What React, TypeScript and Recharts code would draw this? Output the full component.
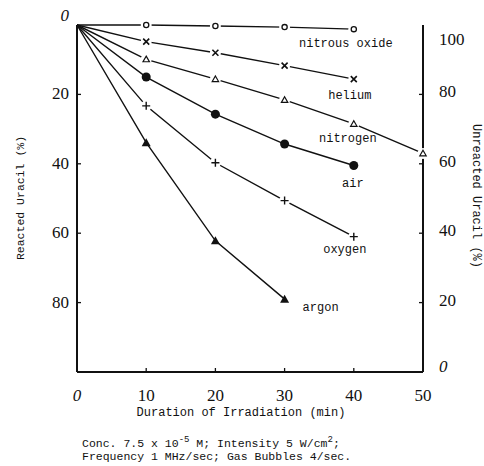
import { LineChart, Line, XAxis, YAxis, LabelList } from "recharts";

// minutes of irradiation, reacted uracil (%) per gas
const minutes = [0, 10, 20, 30, 40, 50];
const nitrousOxide = [0, 0, 0.3, 0.6, 1.2, null];
const helium = [0, 4.8, 8, 11.7, 15.6, null];
const nitrogen = [0, 9.9, 15.6, 21.6, 28.5, 37];
const air = [0, 15, 25.7, 34.3, 40.5, null];
const oxygen = [0, 23.3, 39.7, 50.6, 61, null];
const argon = [0, 33.9, 62.2, 79, null, null];

const xTicks = [0, 10, 20, 30, 40, 50];
const leftTicks = [0, 20, 40, 60, 80, 100];
const rightTicks = [0, 20, 40, 60, 80, 100];

const data = minutes.map((m, i) => ({
  min: m,
  nitrous: nitrousOxide[i],
  helium: helium[i],
  nitrogen: nitrogen[i],
  air: air[i],
  oxygen: oxygen[i],
  argon: argon[i],
}));

const MONO = "Liberation Mono, DejaVu Sans Mono, monospace";
const SERIF = "Liberation Serif, serif";
const INK = "#111";

type Shape = "ocircle" | "cross" | "otri" | "fcircle" | "plus" | "ftri";

const makeDot = (shape: Shape) => (p: any) => {
  const { cx, cy, index, value } = p;
  if (cx == null || cy == null || value == null || index === 0) return <g key={`e${index}`} />;
  let mark;
  switch (shape) {
    case "ocircle":
      mark = <circle cx={cx} cy={cy} r={2.6} fill="#fff" stroke={INK} strokeWidth={1.3} />;
      break;
    case "cross":
      mark = (
        <path d={`M${cx - 3} ${cy - 3}L${cx + 3} ${cy + 3}M${cx - 3} ${cy + 3}L${cx + 3} ${cy - 3}`} stroke={INK} strokeWidth={1.6} />
      );
      break;
    case "otri":
      mark = (
        <path d={`M${cx} ${cy - 3.2}L${cx + 3.2} ${cy + 2.4}L${cx - 3.2} ${cy + 2.4}Z`} fill="#fff" stroke={INK} strokeWidth={1.2} />
      );
      break;
    case "fcircle":
      mark = <circle cx={cx} cy={cy} r={4.5} fill={INK} />;
      break;
    case "plus":
      mark = (
        <path d={`M${cx - 4} ${cy}L${cx + 4} ${cy}M${cx} ${cy - 4}L${cx} ${cy + 4}`} stroke={INK} strokeWidth={1.4} />
      );
      break;
    case "ftri":
      mark = <path d={`M${cx} ${cy - 4.5}L${cx + 4.5} ${cy + 3.5}L${cx - 4.5} ${cy + 3.5}Z`} fill={INK} />;
      break;
  }
  const halo = shape === "fcircle" || shape === "ftri" ? 0 : 5.5;
  return (
    <g key={`d${index}`}>
      {halo > 0 && <circle cx={cx} cy={cy} r={halo} fill="#fff" />}
      {mark}
    </g>
  );
};

const seriesLabel = (name: string, at: number, dx: number, dy: number) => (p: any) => {
  if (p.index !== at || p.x == null) return null;
  return (
    <text x={p.x + dx} y={p.y + dy} textAnchor="middle" fontFamily={MONO} fontSize={12} fill={INK}>
      {name}
    </text>
  );
};

const XTick = (p: any) => {
  const { x, y, payload } = p;
  const v = payload.value;
  return (
    <g>
      {v !== 0 && v !== 50 && <line x1={x} y1={y} x2={x} y2={y - 4} stroke={INK} strokeWidth={1.3} />}
      <text x={x} y={y + 29} textAnchor="middle" fontFamily={SERIF} fontSize={17}
        fontStyle={v === 0 ? "italic" : "normal"} fill={INK}>
        {v}
      </text>
    </g>
  );
};

const LeftTick = (p: any) => {
  const { x, y, payload } = p;
  const v = payload.value;
  if (v === 100) return <g />;
  return (
    <g>
      {v !== 0 && <line x1={x} y1={y} x2={x + 4} y2={y} stroke={INK} strokeWidth={1.3} />}
      <text x={x - 8} y={y + (v === 0 ? -4 : 5)} textAnchor="end" fontFamily={SERIF} fontSize={17}
        fontStyle={v === 0 ? "italic" : "normal"} fill={INK}>
        {v}
      </text>
    </g>
  );
};

const RightTick = (p: any) => {
  const { x, y, payload } = p;
  const v = payload.value;
  const dy = v === 100 ? 20 : v === 0 ? 0 : 3;
  return (
    <g>
      {v !== 0 && v !== 100 && <line x1={x} y1={y} x2={x - 4} y2={y} stroke={INK} strokeWidth={1.3} />}
      <text x={x + 16} y={y + dy} textAnchor="start" fontFamily={SERIF} fontSize={17}
        fontStyle={v === 0 ? "italic" : "normal"} fill={INK}>
        {v}
      </text>
    </g>
  );
};

const lineProps = { type: "linear" as const, stroke: INK, strokeWidth: 1.4, isAnimationActive: false, connectNulls: false };

const supStyle = { fontSize: 9, verticalAlign: 5, lineHeight: 0 };

export default function App() {
  return (
    <div style={{ position: "absolute", left: 0, top: 0, width: 484, height: 466, background: "#fff" }}>
      <LineChart width={484} height={466} data={data} margin={{ top: 25, right: 0, bottom: 64, left: 0 }}>
        <XAxis
          dataKey="min"
          type="number"
          domain={[0, 50]}
          ticks={xTicks}
          height={30}
          tickSize={0}
          tickMargin={0}
          tick={<XTick />}
          axisLine={{ stroke: INK, strokeWidth: 2 }}
        />
        <YAxis
          yAxisId="l"
          type="number"
          domain={[0, 100]}
          reversed
          ticks={leftTicks}
          width={77}
          tickSize={0}
          tickMargin={0}
          tick={<LeftTick />}
          axisLine={{ stroke: INK, strokeWidth: 2 }}
        />
        <YAxis
          yAxisId="r"
          orientation="right"
          type="number"
          domain={[0, 100]}
          allowDataOverflow
          ticks={rightTicks}
          width={61}
          tickSize={0}
          tickMargin={0}
          tick={<RightTick />}
          axisLine={{ stroke: INK, strokeWidth: 2 }}
        />
        <Line yAxisId="l" dataKey="nitrous" {...lineProps} dot={makeDot("ocircle")}>
          <LabelList dataKey="nitrous" content={seriesLabel("nitrous oxide", 4, -8, 18)} />
        </Line>
        <Line yAxisId="l" dataKey="helium" {...lineProps} dot={makeDot("cross")}>
          <LabelList dataKey="helium" content={seriesLabel("helium", 4, -4, 20)} />
        </Line>
        <Line yAxisId="l" dataKey="nitrogen" {...lineProps} dot={makeDot("otri")}>
          <LabelList dataKey="nitrogen" content={seriesLabel("nitrogen", 4, -6, 18)} />
        </Line>
        <Line yAxisId="l" dataKey="air" {...lineProps} dot={makeDot("fcircle")}>
          <LabelList dataKey="air" content={seriesLabel("air", 4, -1, 21)} />
        </Line>
        <Line yAxisId="l" dataKey="oxygen" {...lineProps} dot={makeDot("plus")}>
          <LabelList dataKey="oxygen" content={seriesLabel("oxygen", 4, -9, 16)} />
        </Line>
        <Line yAxisId="l" dataKey="argon" {...lineProps} dot={makeDot("ftri")}>
          <LabelList dataKey="argon" content={seriesLabel("argon", 3, 36, 12)} />
        </Line>
      </LineChart>

      <div
        style={{
          position: "absolute", left: 20, top: 198, transform: "translate(-50%, -50%) rotate(-90deg)",
          fontFamily: MONO, fontSize: 11.5, color: INK, whiteSpace: "nowrap",
        }}
      >
        Reacted Uracil (%)
      </div>
      <div
        style={{
          position: "absolute", left: 476, top: 196, transform: "translate(-50%, -50%) rotate(90deg)",
          fontFamily: MONO, fontSize: 12, color: INK, whiteSpace: "nowrap",
        }}
      >
        Unreacted Uracil (%)
      </div>
      <div
        style={{
          position: "absolute", left: 241, top: 413, transform: "translate(-50%, -50%)",
          fontFamily: MONO, fontSize: 12, color: INK, whiteSpace: "nowrap",
        }}
      >
        Duration of Irradiation (min)
      </div>
      <div
        style={{
          position: "absolute", left: 82, top: 437, fontFamily: MONO, fontSize: 11.5, lineHeight: "13px",
          color: INK, whiteSpace: "nowrap",
        }}
      >
        <div>
          Conc. 7.5 x 10<sup style={supStyle}>-5</sup> M; Intensity 5 W/cm<sup style={supStyle}>2</sup>;
        </div>
        <div>Frequency 1 MHz/sec; Gas Bubbles 4/sec.</div>
      </div>
    </div>
  );
}
